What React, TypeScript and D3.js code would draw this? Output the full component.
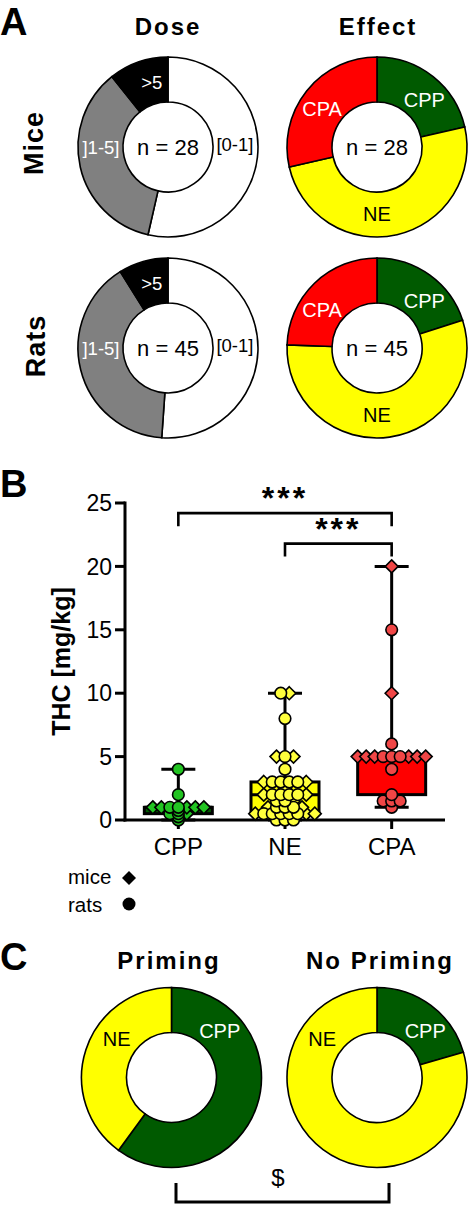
import React from 'react';
import * as d3 from 'd3';

// ---------------- DATA ----------------
const doseLabels = ['[0-1]', ']1-5]', '>5'];
const doseMice = [15, 10, 3];
const doseRats = [23, 18, 4];

const effectLabels = ['CPP', 'NE', 'CPA'];
const effectMice = [6, 14, 8];
const effectRats = [9, 25, 11];

const primingLabels = ['CPP', 'NE'];
const primingCounts = [6, 4];
const noPrimingCounts = [9, 35];

const categories = ['CPP', 'NE', 'CPA'];
const cppMice = [1, 1, 1, 1, 1, 0.5];
const cppRats = [4, 2, 1, 1, 0.75, 0.5, 0.5, 0.25, 0];
const neMice = [10, 5, 5, 3, 3, 2.5, 2, 2, 1.5, 1, 1, 0.5, 0.5, 0.5];
const neRats = [10, 8, 5, 4, 3, 3, 3, 3, 2, 2, 2, 2, 1.5, 1.5, 1, 1, 1, 0.5, 0.5, 0.5, 0.5, 0.5, 0, 0, 0];
const cpaMice = [20, 10, 5, 5, 5, 5, 5, 5];
const cpaRats = [15, 6, 5, 5, 5, 4, 2, 1.5, 1.5, 1.5, 1];
const yTicks = [0, 5, 10, 15, 20, 25];

// ---------------- STYLE ----------------
const FONT = "'Liberation Sans', Arial, Helvetica, sans-serif";
const W = 471;
const H = 1205;
const R_OUT = 90;
const R_IN = 45;
const R_LAB = 67;
const RED = '#ff0000';
const DKGREEN = '#005a00';
const YELLOW = '#ffff00';

const doseColors = ['#ffffff', '#808080', '#000000'];
const doseTextColors = ['#000', '#fff', '#fff'];
const doseAngles = [88, 270, 346];
const effectColors = [DKGREEN, YELLOW, RED];
const effectTextColors = ['#fff', '#000', '#fff'];
const effectAngles = [45, 180, 305];
const primColors = [DKGREEN, YELLOW];
const primTextColors = ['#fff', '#000'];
const primAngles = [46, 305];

const boxFills = [DKGREEN, YELLOW, RED];
const pointFills = ['#22c422', '#ffff3c', '#f04646'];

const arcGen = d3.arc<d3.PieArcDatum<number>>().innerRadius(R_IN).outerRadius(R_OUT);
const pieGen = d3.pie<number>().sort(null).value((d) => d);

function Donut(props: {
  cx: number; cy: number; values: number[]; colors: string[]; labels: string[];
  textColors: string[]; angles: number[]; labelSize: number; center?: string;
}) {
  const { cx, cy, values, colors, labels, textColors, angles, labelSize, center } = props;
  const arcs = pieGen(values);
  return (
    <g transform={`translate(${cx},${cy})`}>
      {arcs.map((a, i) => (
        <path key={i} d={arcGen(a) || ''} fill={colors[i]} stroke="#000" strokeWidth={1.6} />
      ))}
      {labels.map((l, i) => {
        const ang = (angles[i] * Math.PI) / 180;
        return (
          <text key={i} x={R_LAB * Math.sin(ang)} y={-R_LAB * Math.cos(ang)} dy="0.36em"
            textAnchor="middle" fontSize={labelSize} fill={textColors[i]} fontFamily={FONT}>
            {l}
          </text>
        );
      })}
      {center && (
        <text x={0} y={0} dy="0.36em" textAnchor="middle" fontSize={22} fontFamily={FONT}>{center}</text>
      )}
    </g>
  );
}

function gpQuantile(sorted: number[], p: number) {
  const pos = (sorted.length + 1) * p;
  const lo = Math.max(1, Math.min(sorted.length, Math.floor(pos)));
  const hi = Math.max(1, Math.min(sorted.length, Math.ceil(pos)));
  const t = pos - Math.floor(pos);
  return sorted[lo - 1] + (sorted[hi - 1] - sorted[lo - 1]) * t;
}

type Pt = { v: number; sp: 'm' | 'r'; dx: number };
function layoutPoints(mice: number[], rats: number[], spacing: number): Pt[] {
  const vals = Array.from(new Set([...mice, ...rats])).sort((a, b) => a - b);
  const out: Pt[] = [];
  vals.forEach((v) => {
    const m = mice.filter((d) => d === v).length;
    const r = rats.filter((d) => d === v).length;
    const left = Math.floor(m / 2);
    const order: ('m' | 'r')[] = [];
    for (let i = 0; i < left; i++) order.push('m');
    for (let i = 0; i < r; i++) order.push('r');
    for (let i = 0; i < m - left; i++) order.push('m');
    const n = order.length;
    order.forEach((sp, i) => out.push({ v, sp, dx: (i - (n - 1) / 2) * spacing }));
  });
  return out;
}

function diamondPath(cx: number, cy: number, s: number) {
  return `M${cx},${cy - s}L${cx + s},${cy}L${cx},${cy + s}L${cx - s},${cy}Z`;
}

export default function App() {
  const x = d3.scalePoint<string>().domain(categories).range([125, 445]).padding(0.5);
  const y = d3.scaleLinear().domain([0, 25]).range([820, 503]);
  const miceArr = [cppMice, neMice, cpaMice];
  const ratsArr = [cppRats, neRats, cpaRats];
  const BOX_HW = 34;
  const CAP_HW = 17;

  const groups = categories.map((c, i) => {
    const all = [...miceArr[i], ...ratsArr[i]].sort((a, b) => a - b);
    return {
      cat: c,
      cx: x(c) as number,
      min: all[0],
      max: all[all.length - 1],
      q1: gpQuantile(all, 0.25),
      med: gpQuantile(all, 0.5),
      q3: gpQuantile(all, 0.75),
      pts: layoutPoints(miceArr[i], ratsArr[i], 8.5),
      fill: boxFills[i],
      pfill: pointFills[i],
    };
  });

  const brackets = [
    { from: 'CPP', to: 'CPA', level: 24.2, label: '***' },
    { from: 'NE', to: 'CPA', level: 21.8, label: '***' },
  ];

  return (
    <svg width={W} height={H} style={{ position: 'absolute', left: 0, top: 0, background: '#fff' }}
      fontFamily={FONT}>
      <rect width={W} height={H} fill="#fff" />
      {/* Panel A */}
      <text x={0} y={35} fontSize={38} fontWeight="bold">A</text>
      <text x={168} y={35} fontSize={24} fontWeight="bold" textAnchor="middle" letterSpacing={2}>Dose</text>
      <text x={378} y={35} fontSize={24} fontWeight="bold" textAnchor="middle" letterSpacing={2}>Effect</text>
      <text transform="translate(43,143) rotate(-90)" fontSize={27} fontWeight="bold" textAnchor="middle" letterSpacing={1}>Mice</text>
      <text transform="translate(45,346) rotate(-90)" fontSize={27} fontWeight="bold" textAnchor="middle" letterSpacing={1}>Rats</text>

      <Donut cx={168} cy={147} values={doseMice} colors={doseColors} labels={doseLabels}
        textColors={doseTextColors} angles={doseAngles} labelSize={18.5} center={`n = ${d3.sum(doseMice)}`} />
      <Donut cx={377} cy={147} values={effectMice} colors={effectColors} labels={effectLabels}
        textColors={effectTextColors} angles={effectAngles} labelSize={20} center={`n = ${d3.sum(effectMice)}`} />
      <Donut cx={168} cy={348} values={doseRats} colors={doseColors} labels={doseLabels}
        textColors={doseTextColors} angles={doseAngles} labelSize={18.5} center={`n = ${d3.sum(doseRats)}`} />
      <Donut cx={377} cy={348} values={effectRats} colors={effectColors} labels={effectLabels}
        textColors={effectTextColors} angles={effectAngles} labelSize={20} center={`n = ${d3.sum(effectRats)}`} />

      {/* Panel B */}
      <text x={0} y={497} fontSize={38} fontWeight="bold">B</text>
      <text transform={`translate(70,${(y(0) + y(25)) / 2}) rotate(-90)`} fontSize={25} fontWeight="bold" textAnchor="middle">THC [mg/kg]</text>
      {yTicks.map((t) => (
        <g key={t}>
          <line x1={115} x2={125} y1={y(t)} y2={y(t)} stroke="#000" strokeWidth={3} />
          <text x={112} y={y(t)} dy="0.36em" textAnchor="end" fontSize={23}>{t}</text>
        </g>
      ))}
      <line x1={125} x2={125} y1={y(25) - 1.5} y2={y(0) + 1.5} stroke="#000" strokeWidth={3} />
      <line x1={123.5} x2={445} y1={y(0)} y2={y(0)} stroke="#000" strokeWidth={3} />
      {categories.map((c) => (
        <g key={c}>
          <line x1={x(c)} x2={x(c)} y1={y(0)} y2={y(0) + 9} stroke="#000" strokeWidth={3} />
          <text x={x(c)} y={855} textAnchor="middle" fontSize={24}>{c}</text>
        </g>
      ))}

      {groups.map((g) => (
        <g key={g.cat}>
          <line x1={g.cx} x2={g.cx} y1={y(g.max)} y2={y(g.min)} stroke="#000" strokeWidth={3} />
          <line x1={g.cx - CAP_HW} x2={g.cx + CAP_HW} y1={y(g.max)} y2={y(g.max)} stroke="#000" strokeWidth={3} />
          <line x1={g.cx - CAP_HW} x2={g.cx + CAP_HW} y1={y(g.min)} y2={y(g.min)} stroke="#000" strokeWidth={3} />
          <rect x={g.cx - BOX_HW} y={y(g.q3)} width={2 * BOX_HW} height={Math.max(0, y(g.q1) - y(g.q3))}
            fill={g.fill} stroke="#000" strokeWidth={3} />
          <line x1={g.cx - BOX_HW} x2={g.cx + BOX_HW} y1={y(g.med)} y2={y(g.med)} stroke="#000" strokeWidth={3} />
        </g>
      ))}
      {groups.map((g) => (
        <g key={g.cat + 'm'}>
          {g.pts.filter((p) => p.sp === 'm').map((p, i) => (
            <path key={i} d={diamondPath(g.cx + p.dx, y(p.v), 6.5)} fill={g.pfill} stroke="#000" strokeWidth={1.6} />
          ))}
        </g>
      ))}
      {groups.map((g) => (
        <g key={g.cat + 'r'}>
          {g.pts.filter((p) => p.sp === 'r').map((p, i) => (
            <circle key={i} cx={g.cx + p.dx} cy={y(p.v)} r={5.8} fill={g.pfill} stroke="#000" strokeWidth={1.6} />
          ))}
        </g>
      ))}

      {brackets.map((b, i) => {
        const x1 = x(b.from) as number;
        const x2 = x(b.to) as number;
        const yy = y(b.level);
        return (
          <g key={i}>
            <path d={`M${x1},${yy + 13}V${yy}H${x2}V${yy + 13}`} fill="none" stroke="#000" strokeWidth={2.6} />
            <text x={(x1 + x2) / 2} y={yy - 4} textAnchor="middle" fontSize={32} fontWeight="bold" letterSpacing={3}>{b.label}</text>
          </g>
        );
      })}

      {/* legend */}
      <text x={68} y={884} fontSize={20.5}>mice</text>
      <path d={diamondPath(129, 878, 7)} fill="#000" />
      <text x={68} y={912} fontSize={20.5}>rats</text>
      <circle cx={129} cy={904} r={6.5} fill="#000" />

      {/* Panel C */}
      <text x={0} y={970} fontSize={38} fontWeight="bold">C</text>
      <text x={169} y={969} fontSize={24} fontWeight="bold" textAnchor="middle" letterSpacing={2}>Priming</text>
      <text x={380} y={969} fontSize={24} fontWeight="bold" textAnchor="middle" letterSpacing={2}>No Priming</text>
      <Donut cx={171.5} cy={1077.5} values={primingCounts} colors={primColors} labels={primingLabels}
        textColors={primTextColors} angles={primAngles} labelSize={20} />
      <Donut cx={377} cy={1077.5} values={noPrimingCounts} colors={primColors} labels={primingLabels}
        textColors={primTextColors} angles={primAngles} labelSize={20} />
      <path d="M176,1183V1202H389V1183" fill="none" stroke="#000" strokeWidth={3} />
      <text x={278} y={1186} textAnchor="middle" fontSize={24}>$</text>
    </svg>
  );
}
